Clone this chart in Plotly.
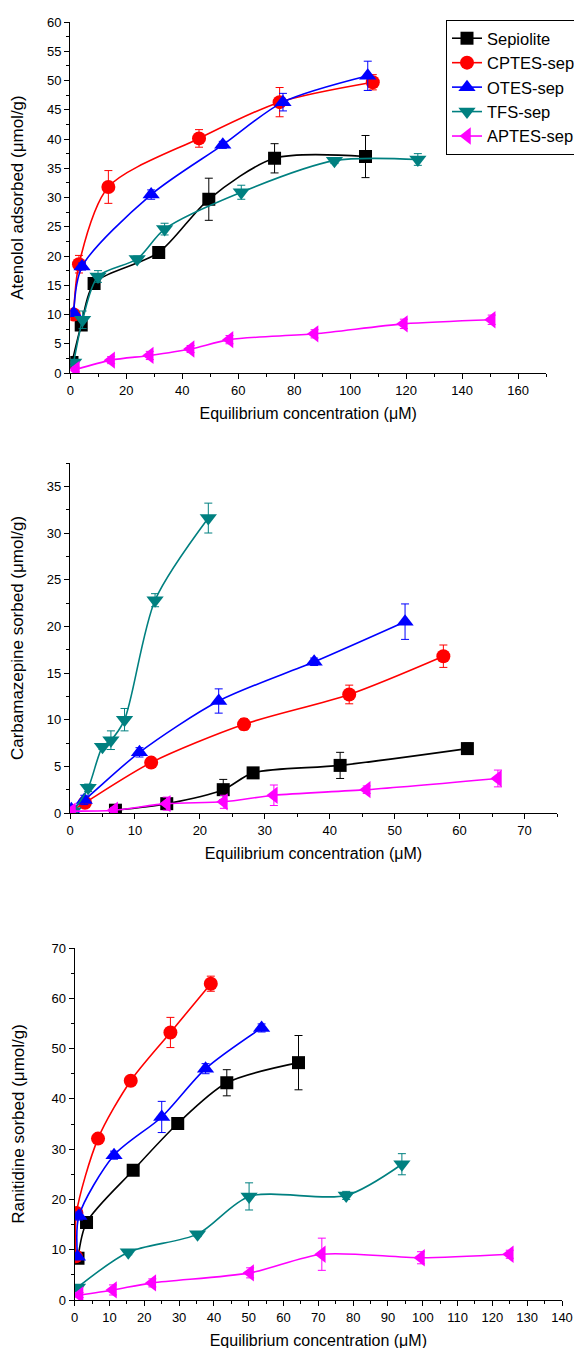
import plotly.graph_objects as go

# ---------------- data ----------------
series_names = ["Sepiolite", "CPTES-sep", "OTES-sep", "TFS-sep", "APTES-sep"]
series_colors = ["#000000", "#FF0000", "#0000FF", "#008080", "#FF00FF"]
series_symbols = ["square", "circle", "triangle-up", "triangle-down", "triangle-left"]

# Panel 1: Atenolol
ate_sep_x = [0.6, 3.9, 8.5, 31.6, 49.5, 73.0, 105.5]
ate_sep_y = [1.8, 8.2, 15.3, 20.6, 29.7, 36.7, 37.0]
ate_sep_e = [0.3, 0.8, 0.8, 0.7, 3.6, 2.5, 3.6]
ate_cp_x = [1.2, 3.1, 13.6, 46.0, 74.8, 108.1]
ate_cp_y = [10.0, 18.6, 31.8, 40.1, 46.3, 49.7]
ate_cp_e = [0.5, 1.5, 2.8, 1.5, 2.5, 1.3]
ate_ot_x = [1.2, 4.2, 28.9, 54.5, 76.0, 106.3]
ate_ot_y = [10.2, 18.2, 30.5, 39.0, 46.3, 50.8]
ate_ot_e = [0.5, 0.6, 0.8, 0.6, 1.5, 2.5]
ate_tf_x = [1.2, 4.4, 9.9, 23.9, 33.7, 61.1, 94.4, 124.2]
ate_tf_y = [1.8, 9.1, 16.5, 19.5, 24.6, 30.9, 36.3, 36.5]
ate_tf_e = [0.5, 1.5, 1.0, 0.5, 1.0, 1.2, 0.5, 1.0]
ate_ap_x = [2.0, 14.6, 28.4, 43.0, 56.9, 87.3, 119.2, 150.6]
ate_ap_y = [0.6, 2.2, 3.0, 4.1, 5.7, 6.7, 8.4, 9.1]
ate_ap_e = [0.4, 0.6, 0.7, 0.6, 0.7, 0.7, 0.8, 0.8]

# Panel 2: Carbamazepine
cbz_sep_x = [7.0, 14.9, 23.6, 28.2, 41.6, 61.2]
cbz_sep_y = [0.3, 1.0, 2.5, 4.3, 5.1, 6.9]
cbz_sep_e = [0.2, 0.6, 1.1, 0.3, 1.4, 0.6]
cbz_cp_x = [0.2, 2.3, 12.5, 26.8, 43.0, 57.5]
cbz_cp_y = [0.2, 1.1, 5.4, 9.5, 12.7, 16.8]
cbz_cp_e = [0.1, 0.3, 0.3, 0.6, 1.0, 1.2]
cbz_ot_x = [0.2, 2.2, 10.7, 22.9, 37.6, 51.6]
cbz_ot_y = [0.4, 1.4, 6.5, 12.0, 16.2, 20.5]
cbz_ot_e = [0.1, 0.5, 0.5, 1.3, 0.4, 1.9]
cbz_tf_x = [0.5, 2.8, 5.0, 6.3, 8.4, 13.1, 21.3]
cbz_tf_y = [0.2, 2.7, 7.1, 7.8, 10.0, 22.8, 31.6]
cbz_tf_e = [0.1, 0.4, 0.3, 1.0, 1.2, 0.7, 1.6]
cbz_ap_x = [0.3, 6.8, 14.9, 23.7, 31.4, 45.7, 65.9]
cbz_ap_y = [0.2, 0.3, 1.0, 1.2, 1.9, 2.5, 3.7]
cbz_ap_e = [0.1, 0.3, 0.7, 0.7, 1.1, 0.4, 0.9]

# Panel 3: Ranitidine
ran_sep_x = [0.95, 3.4, 16.8, 29.6, 43.7, 64.3]
ran_sep_y = [8.3, 15.4, 25.8, 35.1, 43.2, 47.2]
ran_sep_e = [0.5, 0.8, 0.8, 0.9, 2.6, 5.4]
ran_cp_x = [0.3, 0.5, 6.7, 16.1, 27.5, 39.1]
ran_cp_y = [8.7, 17.3, 32.1, 43.6, 53.2, 62.9]
ran_cp_e = [0.5, 0.8, 0.8, 0.8, 3.0, 1.5]
ran_ot_x = [0.8, 1.2, 11.3, 25.0, 37.6, 53.7]
ran_ot_y = [8.6, 16.7, 28.8, 36.4, 46.0, 54.1]
ran_ot_e = [0.5, 0.8, 0.8, 3.1, 1.0, 0.8]
ran_tf_x = [0.8, 15.4, 35.3, 50.1, 78.0, 94.0]
ran_tf_y = [2.5, 9.5, 13.1, 20.6, 20.8, 27.0]
ran_tf_e = [0.5, 0.5, 0.5, 2.7, 0.8, 2.1]
ran_ap_x = [1.4, 11.0, 22.3, 50.4, 71.0, 99.5, 125.0]
ran_ap_y = [1.0, 2.0, 3.4, 5.4, 9.1, 8.4, 9.1]
ran_ap_e = [0.5, 1.0, 0.8, 1.0, 3.2, 1.2, 0.8]

panels = [
    ("x", "y", [(ate_sep_x, ate_sep_y, ate_sep_e), (ate_cp_x, ate_cp_y, ate_cp_e),
                (ate_ot_x, ate_ot_y, ate_ot_e), (ate_tf_x, ate_tf_y, ate_tf_e),
                (ate_ap_x, ate_ap_y, ate_ap_e)]),
    ("x2", "y2", [(cbz_sep_x, cbz_sep_y, cbz_sep_e), (cbz_cp_x, cbz_cp_y, cbz_cp_e),
                  (cbz_ot_x, cbz_ot_y, cbz_ot_e), (cbz_tf_x, cbz_tf_y, cbz_tf_e),
                  (cbz_ap_x, cbz_ap_y, cbz_ap_e)]),
    ("x3", "y3", [(ran_sep_x, ran_sep_y, ran_sep_e), (ran_cp_x, ran_cp_y, ran_cp_e),
                  (ran_ot_x, ran_ot_y, ran_ot_e), (ran_tf_x, ran_tf_y, ran_tf_e),
                  (ran_ap_x, ran_ap_y, ran_ap_e)]),
]

x_title = "Equilibrium concentration (μM)"
y_titles = ["Atenolol adsorbed (μmol/g)", "Carbamazepine sorbed (μmol/g)", "Ranitidine sorbed (μmol/g)"]

marker_sizes = [13, 14, 15, 15, 15]

FONT = "Liberation Sans, Arial, sans-serif"
W, H = 582, 1348

fig = go.Figure()
for pi, (xa, ya, sets) in enumerate(panels):
    for si, (xs, ys, es) in enumerate(sets):
        c = series_colors[si]
        fig.add_trace(go.Scatter(
            x=xs, y=ys, xaxis=xa, yaxis=ya,
            mode="lines+markers",
            name=series_names[si],
            showlegend=(pi == 0),
            line=dict(color=c, width=1.6, shape="spline", smoothing=0.8),
            marker=dict(symbol=series_symbols[si], color=c, size=marker_sizes[si],
                        line=dict(width=0)),
            error_y=dict(type="data", array=es, visible=True, color=c,
                         thickness=1, width=4),
        ))

def px_domain_x(a, b):
    return [a / W, b / W]

def px_domain_y(top, bottom):
    return [(H - bottom) / H, (H - top) / H]

axis_common = dict(
    showline=True, linecolor="black", linewidth=1.3,
    ticks="outside", ticklen=5, tickwidth=1.2, tickcolor="black",
    showgrid=False, zeroline=False, mirror=False,
    tickfont=dict(family=FONT, size=13, color="black"),
    automargin=False,
)

specs = [
    # x domain px, y top/bottom px, x range, x dtick, x minor, y range, y dtick, y minor
    ((62.3, 538), (14, 365), [0, 170], 20, 10, [0, 60], 5, 2.5),
    ((62, 549), (455, 805), [0, 75], 10, 5, [0, 37.5], 5, 2.5),
    ((66.7, 554), (940, 1292), [0, 140], 10, 5, [0, 70], 10, 5),
]

layout = dict(
    width=W, height=H,
    margin=dict(l=0, r=0, t=0, b=0),
    paper_bgcolor="white", plot_bgcolor="white",
    template="none",
    font=dict(family=FONT, color="black"),
    legend=dict(
        x=438 / W, y=1 - 12 / H, xanchor="left", yanchor="top",
        bordercolor="black", borderwidth=1, bgcolor="white",
        font=dict(family=FONT, size=16.5, color="black"),
        tracegroupgap=0, itemwidth=30,
    ),
)

for i, (xd, yd, xr, xdt, xmin, yr, ydt, ymin) in enumerate(specs):
    sx = "" if i == 0 else str(i + 1)
    layout["xaxis" + sx] = dict(
        axis_common,
        domain=px_domain_x(*xd), range=xr, dtick=xdt, tick0=0,
        anchor="y" + sx,
        minor=dict(ticks="outside", ticklen=3, tickwidth=1.2, tickcolor="black", dtick=xmin, showgrid=False),
        title=dict(text=x_title, font=dict(family=FONT, size=16, color="black"), standoff=11),
    )
    layout["yaxis" + sx] = dict(
        axis_common,
        domain=px_domain_y(*yd), range=yr, dtick=ydt, tick0=0,
        anchor="x" + sx,
        minor=dict(ticks="outside", ticklen=3, tickwidth=1.2, tickcolor="black", dtick=ymin, showgrid=False),
        title=dict(text=y_titles[i], font=dict(family=FONT, size=17, color="black"), standoff=22),
    )

fig.update_layout(**layout)
fig.write_html("out.html")
